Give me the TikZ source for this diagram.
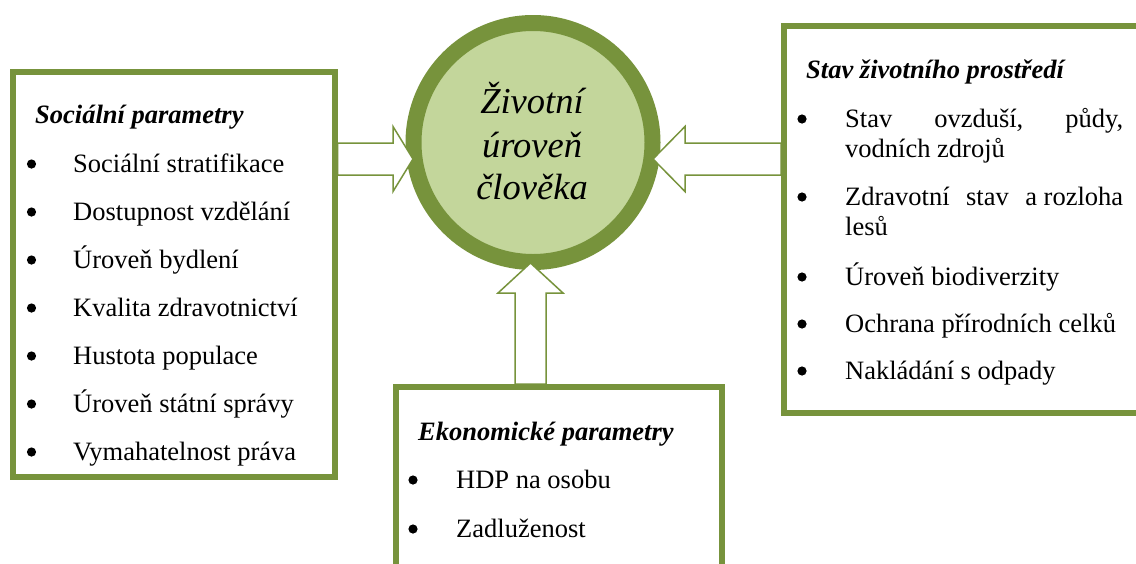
\documentclass[tikz,border=0pt]{standalone}
\usepackage{fontspec}
\setmainfont{Liberation Serif}
\usetikzlibrary{calc}

\definecolor{leafgreen}{HTML}{77933C}
\definecolor{leaflight}{HTML}{C3D69B}

\tikzset{
  panel/.style={rectangle, draw=leafgreen, line width=6pt, inner sep=0pt},
  hub/.style={circle, draw=leafgreen, fill=leaflight, line width=16pt,
    minimum size=239pt, inner sep=0pt},
  blockarrow/.style={draw=leafgreen, fill=white, line width=1.5pt, line join=miter},
  headtext/.style={anchor=base west, inner sep=0pt,
    font=\fontsize{26.5}{30}\selectfont\bfseries\itshape},
  itemtext/.style={anchor=base west, inner sep=0pt,
    font=\fontsize{26.5}{30}\selectfont},
  hubtext/.style={anchor=base, inner sep=0pt,
    font=\fontsize{36.5}{40}\selectfont\itshape},
  dot/.style={fill=black},
}

\begin{document}
\begin{tikzpicture}[x=1pt, y=-1pt]
  \path[use as bounding box, clip] (0,0) rectangle (1136,563);

  % central circle
  \node[hub] (hub) at (533,142.5) {};
  \node[hubtext] (hub1) at (532,113) {Životní};
  \node[hubtext] (hub2) at (532,157) {úroveň};
  \node[hubtext] (hub3) at (532,199) {člověka};

  % three parameter panels
  \node[panel, minimum width=321.5pt, minimum height=405.5pt] (social) at (173.75,274.25) {};
  \node[panel, minimum width=366pt, minimum height=387pt] (env) at (967,219.5) {};
  \node[panel, minimum width=326.5pt, minimum height=213pt] (econ) at (558.75,493.5) {};

  % hollow block arrows into the circle
  \coordinate (tipS) at (413,159);
  \coordinate (tipV) at (653,159);
  \coordinate (tipE) at (530.5,263);
  \draw[blockarrow] (social.east |- 0,143) -- (393,143) -- (393,126.5) -- (tipS)
    -- (393,191.5) -- (393,175) -- (social.east |- 0,175) -- cycle;
  \draw[blockarrow] (env.west |- 0,143) -- (685,143) -- (685,126.5) -- (tipV)
    -- (685,191.5) -- (685,175) -- (env.west |- 0,175) -- cycle;
  \draw[blockarrow] (515,0 |- econ.north) -- (515,293) -- (498,293) -- (tipE)
    -- (563,293) -- (546,293) -- (546,0 |- econ.north) -- cycle;

  % social parameters
  \node[headtext] (socH) at (35,123) {Sociální parametry};
  \foreach \t [count=\i from 0] in {Sociální stratifikace, Dostupnost vzdělání,
      Úroveň bydlení, Kvalita zdravotnictví, Hustota populace,
      Úroveň státní správy, Vymahatelnost práva} {
    \node[itemtext] (soc\i) at (73,172+48*\i) {\t};
    \fill[dot] (31.5,164+48*\i) circle (4.6pt);
  }

  % environment
  \node[headtext] (envH) at (806,78) {Stav životního prostředí};
  \node[itemtext] (env1) at (845,127) {\hbox to 278pt{Stav\hfill ovzduší,\hfill půdy,}};
  \node[itemtext] (env1b) at (845,157) {vodních zdrojů};
  \node[itemtext] (env2) at (845,205) {\hbox to 278pt{Zdravotní\hfill stav\hfill a~rozloha}};
  \node[itemtext] (env2b) at (845,235) {lesů};
  \node[itemtext] (env3) at (845,285) {Úroveň biodiverzity};
  \node[itemtext] (env4) at (845,332) {Ochrana přírodních celků};
  \node[itemtext] (env5) at (845,379) {Nakládání s odpady};
  \foreach \y in {127,205,285,332,379}
    \fill[dot] (802,\y-8) circle (4.6pt);

  % economy
  \node[headtext] (econH) at (418,440) {Ekonomické parametry};
  \node[itemtext] (econ1) at (456,488) {HDP na osobu};
  \node[itemtext] (econ2) at (456,537) {Zadluženost};
  \foreach \y in {488,537}
    \fill[dot] (413,\y-8) circle (4.6pt);
\end{tikzpicture}
\end{document}
